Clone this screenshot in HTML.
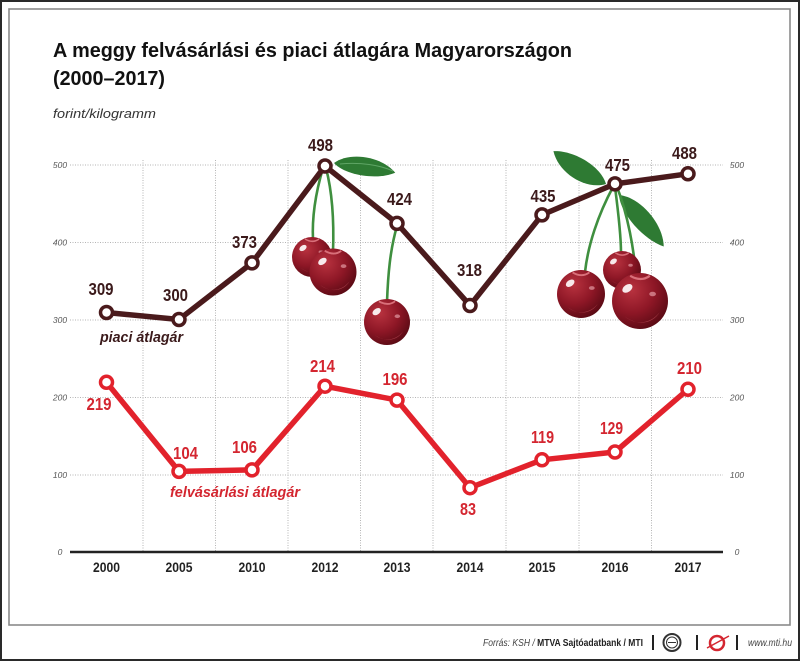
<!DOCTYPE html>
<html><head><meta charset="utf-8"><style>
html,body{margin:0;padding:0;background:#fff;}
svg{display:block;}
text{font-family:"Liberation Sans",sans-serif;}
</style></head><body>
<svg width="800" height="661" viewBox="0 0 800 661" xmlns="http://www.w3.org/2000/svg">
<defs>
<radialGradient id="cg" cx="0.35" cy="0.3" r="0.75">
<stop offset="0" stop-color="#b8323f"/>
<stop offset="0.55" stop-color="#8e1726"/>
<stop offset="1" stop-color="#5a0a14"/>
</radialGradient>
<g id="cherry">
<circle r="1" fill="url(#cg)"/>
<path d="M-0.55,0.55 C-0.2,0.85 0.35,0.85 0.7,0.4 C0.5,0.75 0,0.95 -0.55,0.55Z" fill="#c45560" opacity="0.6"/>
<ellipse cx="-0.45" cy="-0.45" rx="0.2" ry="0.13" transform="rotate(-35 -0.45 -0.45)" fill="#fff" opacity="0.9"/>
<path d="M-0.35,-0.9 C-0.1,-0.75 0.15,-0.75 0.35,-0.9" stroke="#d9707a" stroke-width="0.08" fill="none"/>
<ellipse cx="0.45" cy="-0.25" rx="0.12" ry="0.08" fill="#e29aa2" opacity="0.7"/>
</g>
<path id="leaf" d="M0,0 C14,-14 46,-14 62,0 C46,10 14,11 0,0Z"/>
</defs>

<!-- borders -->
<rect x="1" y="1" width="798" height="659" fill="none" stroke="#2a2a2a" stroke-width="2"/>
<rect x="9" y="9" width="781" height="616" fill="none" stroke="#8a8a8a" stroke-width="1.6"/>

<!-- title -->
<text x="53" y="57" font-size="20" font-weight="bold" fill="#111" textLength="519" lengthAdjust="spacingAndGlyphs">A meggy felvásárlási és piaci átlagára Magyarországon</text>
<text x="53" y="85" font-size="20" font-weight="bold" fill="#111" textLength="112" lengthAdjust="spacingAndGlyphs">(2000–2017)</text>
<text x="53" y="118" font-size="13" font-style="italic" fill="#333" textLength="103" lengthAdjust="spacingAndGlyphs">forint/kilogramm</text>

<!-- gridlines -->
<g stroke="#b5b5b5" stroke-width="1" stroke-dasharray="1,1.5" fill="none">
<line x1="70" y1="165" x2="723" y2="165"/>
<line x1="70" y1="242.5" x2="723" y2="242.5"/>
<line x1="70" y1="320" x2="723" y2="320"/>
<line x1="70" y1="397.5" x2="723" y2="397.5"/>
<line x1="70" y1="475" x2="723" y2="475"/>
<line x1="143" y1="160" x2="143" y2="552"/>
<line x1="215.5" y1="160" x2="215.5" y2="552"/>
<line x1="288" y1="160" x2="288" y2="552"/>
<line x1="360.5" y1="160" x2="360.5" y2="552"/>
<line x1="433" y1="160" x2="433" y2="552"/>
<line x1="506" y1="160" x2="506" y2="552"/>
<line x1="579" y1="160" x2="579" y2="552"/>
<line x1="651.5" y1="160" x2="651.5" y2="552"/>
</g>

<!-- tick labels -->
<g font-size="8.5" font-style="italic" fill="#555" text-anchor="middle">
<text x="60" y="168">500</text><text x="60" y="245.5">400</text><text x="60" y="323">300</text><text x="60" y="400.5">200</text><text x="60" y="478">100</text><text x="60" y="555">0</text>
<text x="737" y="168">500</text><text x="737" y="245.5">400</text><text x="737" y="323">300</text><text x="737" y="400.5">200</text><text x="737" y="478">100</text><text x="737" y="555">0</text>
</g>

<!-- axis -->
<line x1="70" y1="552" x2="723" y2="552" stroke="#222" stroke-width="2.5"/>
<g font-size="14" font-weight="bold" fill="#222" text-anchor="middle">
<text x="106.5" y="572" textLength="27" lengthAdjust="spacingAndGlyphs">2000</text>
<text x="179" y="572" textLength="27" lengthAdjust="spacingAndGlyphs">2005</text>
<text x="252" y="572" textLength="27" lengthAdjust="spacingAndGlyphs">2010</text>
<text x="325" y="572" textLength="27" lengthAdjust="spacingAndGlyphs">2012</text>
<text x="397" y="572" textLength="27" lengthAdjust="spacingAndGlyphs">2013</text>
<text x="470" y="572" textLength="27" lengthAdjust="spacingAndGlyphs">2014</text>
<text x="542" y="572" textLength="27" lengthAdjust="spacingAndGlyphs">2015</text>
<text x="615" y="572" textLength="27" lengthAdjust="spacingAndGlyphs">2016</text>
<text x="688" y="572" textLength="27" lengthAdjust="spacingAndGlyphs">2017</text>
</g>

<!-- cherries bunch 1 (2012/2013) -->
<use href="#leaf" fill="#2e7a33" transform="translate(334,163) rotate(9)"/>
<path d="M340,164 C360,162 380,165 393,171" stroke="#5fa565" stroke-width="1" fill="none"/>
<g stroke="#3f8f3f" stroke-width="2.6" fill="none" stroke-linecap="round">
<path d="M323,168 C315,195 312,220 313,240"/>
<path d="M326,168 C333,195 334,225 333,252"/>
<path d="M397,226 C390,250 388,275 387,302"/>
</g>
<use href="#cherry" transform="translate(312,257) scale(20)"/>
<use href="#cherry" transform="translate(333,272) scale(23.5)"/>
<use href="#cherry" transform="translate(387,322) scale(23)"/>

<!-- cherries bunch 2 (2016) -->
<use href="#leaf" fill="#2e7a33" transform="translate(606,184) rotate(212) scale(1,1.15)"/>
<use href="#leaf" fill="#2e7a33" transform="translate(619,195) rotate(49) scale(1.1,1.05)"/>
<g stroke="#3f8f3f" stroke-width="2.6" fill="none" stroke-linecap="round">
<path d="M613,187 C598,215 588,245 585,272"/>
<path d="M615,187 C618,210 621,235 621,253"/>
<path d="M617,187 C628,215 634,250 636,276"/>
</g>
<use href="#cherry" transform="translate(622,270) scale(19)"/>
<use href="#cherry" transform="translate(581,294) scale(24)"/>
<use href="#cherry" transform="translate(640,301) scale(28)"/>

<!-- piaci series -->
<polyline points="106.5,312.5 179,319.5 252,262.9 325,166 397,223.4 470,305.5 542,214.9 615,183.9 688,173.8" fill="none" stroke="#4a1a1c" stroke-width="5.5" stroke-linejoin="round"/>
<g fill="#fff" stroke="#4a1a1c" stroke-width="3.5">
<circle cx="106.5" cy="312.5" r="6"/><circle cx="179" cy="319.5" r="6"/><circle cx="252" cy="262.9" r="6"/><circle cx="325" cy="166" r="6"/><circle cx="397" cy="223.4" r="6"/><circle cx="470" cy="305.5" r="6"/><circle cx="542" cy="214.9" r="6"/><circle cx="615" cy="183.9" r="6"/><circle cx="688" cy="173.8" r="6"/>
</g>
<g font-size="17.5" font-weight="bold" fill="#3b1a1b" text-anchor="middle">
<text x="101" y="295" textLength="25" lengthAdjust="spacingAndGlyphs">309</text>
<text x="175.5" y="301" textLength="25" lengthAdjust="spacingAndGlyphs">300</text>
<text x="244.5" y="248" textLength="25" lengthAdjust="spacingAndGlyphs">373</text>
<text x="320.5" y="151" textLength="25" lengthAdjust="spacingAndGlyphs">498</text>
<text x="399.5" y="205" textLength="25" lengthAdjust="spacingAndGlyphs">424</text>
<text x="469.5" y="276" textLength="25" lengthAdjust="spacingAndGlyphs">318</text>
<text x="543" y="202" textLength="25" lengthAdjust="spacingAndGlyphs">435</text>
<text x="617.5" y="171" textLength="25" lengthAdjust="spacingAndGlyphs">475</text>
<text x="684.5" y="159" textLength="25" lengthAdjust="spacingAndGlyphs">488</text>
</g>
<text x="100" y="342" font-size="15" font-weight="bold" font-style="italic" fill="#3b1a1b" textLength="83" lengthAdjust="spacingAndGlyphs">piaci átlagár</text>

<!-- felvásárlási series -->
<polyline points="106.5,382.3 179,471.4 252,469.9 325,386.2 397,400.1 470,487.7 542,459.8 615,452 688,389.3" fill="none" stroke="#e2222c" stroke-width="5.5" stroke-linejoin="round"/>
<g fill="#fff" stroke="#e2222c" stroke-width="3.5">
<circle cx="106.5" cy="382.3" r="6"/><circle cx="179" cy="471.4" r="6"/><circle cx="252" cy="469.9" r="6"/><circle cx="325" cy="386.2" r="6"/><circle cx="397" cy="400.1" r="6"/><circle cx="470" cy="487.7" r="6"/><circle cx="542" cy="459.8" r="6"/><circle cx="615" cy="452" r="6"/><circle cx="688" cy="389.3" r="6"/>
</g>
<g font-size="17.5" font-weight="bold" fill="#d42630" text-anchor="middle">
<text x="99" y="410" textLength="25" lengthAdjust="spacingAndGlyphs">219</text>
<text x="185.5" y="459" textLength="25" lengthAdjust="spacingAndGlyphs">104</text>
<text x="244.5" y="453" textLength="25" lengthAdjust="spacingAndGlyphs">106</text>
<text x="322.5" y="372" textLength="25" lengthAdjust="spacingAndGlyphs">214</text>
<text x="395" y="385" textLength="25" lengthAdjust="spacingAndGlyphs">196</text>
<text x="468" y="515" textLength="16" lengthAdjust="spacingAndGlyphs">83</text>
<text x="542.5" y="443" textLength="23" lengthAdjust="spacingAndGlyphs">119</text>
<text x="611.5" y="434" textLength="23" lengthAdjust="spacingAndGlyphs">129</text>
<text x="689.5" y="374" textLength="25" lengthAdjust="spacingAndGlyphs">210</text>
</g>
<text x="170" y="497" font-size="15" font-weight="bold" font-style="italic" fill="#d42630" textLength="130" lengthAdjust="spacingAndGlyphs">felvásárlási átlagár</text>

<!-- footer -->
<text x="483" y="646" font-size="10" fill="#444" textLength="160" lengthAdjust="spacingAndGlyphs"><tspan font-style="italic">Forrás: KSH / </tspan><tspan font-weight="bold" fill="#222">MTVA Sajtóadatbank / MTI</tspan></text>
<g stroke="#222" stroke-width="2">
<line x1="653" y1="635" x2="653" y2="650"/>
<line x1="697" y1="635" x2="697" y2="650"/>
<line x1="737" y1="635" x2="737" y2="650"/>
</g>
<circle cx="672" cy="642.5" r="8.5" fill="#fff" stroke="#333" stroke-width="2"/>
<circle cx="672" cy="642.5" r="5.5" fill="#fff" stroke="#333" stroke-width="1"/>
<line x1="668" y1="642.5" x2="676" y2="642.5" stroke="#333" stroke-width="1"/>
<circle cx="717" cy="643" r="7" fill="none" stroke="#d42630" stroke-width="2.5"/>
<path d="M707,648 L729,636" stroke="#d42630" stroke-width="1.5"/>
<text x="748" y="646" font-size="10" font-style="italic" fill="#444" textLength="44" lengthAdjust="spacingAndGlyphs">www.mti.hu</text>
</svg>
</body></html>
